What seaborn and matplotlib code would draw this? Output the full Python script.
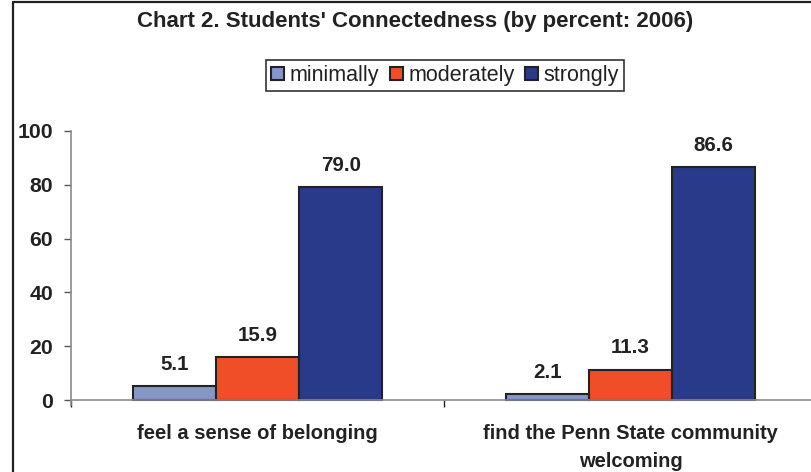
import matplotlib
matplotlib.use("Agg")
import matplotlib.pyplot as plt
from matplotlib.lines import Line2D
import seaborn as sns
import pandas as pd

# Survey results (percent of students)
categories = ["feel a sense of belonging", "find the Penn State community\nwelcoming"]
levels = ["minimally", "moderately", "strongly"]
minimally = [5.1, 2.1]
moderately = [15.9, 11.3]
strongly = [79.0, 86.6]
colors = ["#8796C9", "#F04E28", "#283A89"]
yticks = [0, 20, 40, 60, 80, 100]
title = "Chart 2. Students' Connectedness (by percent: 2006)"

rows = []
for lvl, vals in zip(levels, [minimally, moderately, strongly]):
    for cat, v in zip(categories, vals):
        rows.append({"category": cat, "level": lvl, "percent": v})
df = pd.DataFrame(rows)

sns.set_theme(style="white")
plt.rcParams["font.family"] = ["Liberation Sans", "DejaVu Sans"]
text_color = "#222222"

W, H = 811, 472
fig = plt.figure(figsize=(W / 100, H / 100), dpi=100)
fig.patch.set_facecolor("white")

ymin = -1.8
px_per_unit = 269 / 100
bottom_px = 400 + (-ymin) * px_per_unit
ax = fig.add_axes([71 / W, (H - bottom_px) / H, 746 / W, (100 - ymin) * px_per_unit / H])

sns.barplot(
    data=df, x="category", y="percent", hue="level",
    order=categories, hue_order=levels,
    palette=dict(zip(levels, colors)), saturation=1,
    width=0.67, edgecolor="#222222", linewidth=1.5, ax=ax,
)

for container in ax.containers:
    ax.bar_label(container, fmt="%.1f", padding=9, fontsize=14.8,
                 fontweight="bold", color=text_color)

ax.set_xlim(-0.5, 1.5)
ax.set_ylim(ymin, 100)
ax.set_xlabel("")
ax.set_ylabel("")

for side in ("top", "right"):
    ax.spines[side].set_visible(False)
for side in ("left", "bottom"):
    ax.spines[side].set_color("#8a8a8a")
    ax.spines[side].set_linewidth(1.2)
ax.spines["bottom"].set_position(("data", 0))

ax.set_yticks(yticks)
ax.set_yticklabels([str(t) for t in yticks], fontsize=15.3, fontweight="bold", color=text_color)
ax.tick_params(axis="y", direction="out", length=5, width=1, color="#555555", pad=8, left=True)

ax.set_xticks([-0.5, 0.5, 1.5])
ax.set_xticklabels([])
ax.set_xticks([0, 1], minor=True)
ax.set_xticklabels(categories, minor=True, fontsize=14.5, fontweight="bold",
                   color=text_color, linespacing=1.6)
ax.tick_params(axis="x", which="major", direction="out", length=5, width=1,
               color="#222222", bottom=True)
ax.tick_params(axis="x", which="minor", length=0, pad=17)

handles, labels = ax.get_legend_handles_labels()
leg = ax.legend(
    handles, labels, loc="center",
    bbox_to_anchor=(445 / W, (H - 75.5) / H), bbox_transform=fig.transFigure,
    ncol=3, frameon=True, fancybox=False, framealpha=1, edgecolor="#333333",
    fontsize=15.5, handlelength=0.6, handleheight=0.6, handletextpad=0.25,
    columnspacing=0.5, borderpad=0.25, borderaxespad=0,
)
leg.get_frame().set_linewidth(1.2)
for t in leg.get_texts():
    t.set_color(text_color)

fig.text(415.5 / W, 1 - 22 / H, title, ha="center", va="center",
         fontsize=16, fontweight="bold", color=text_color)

# Outer frame (left and top edges)
fig.add_artist(Line2D([12.5 / W, 12.5 / W], [0, 1 - 1.5 / H], transform=fig.transFigure,
                      color="#222222", lw=1.6))
fig.add_artist(Line2D([12.5 / W, 1], [1 - 1.5 / H, 1 - 1.5 / H], transform=fig.transFigure,
                      color="#222222", lw=1.6))

fig.savefig("out.png", dpi=100)
